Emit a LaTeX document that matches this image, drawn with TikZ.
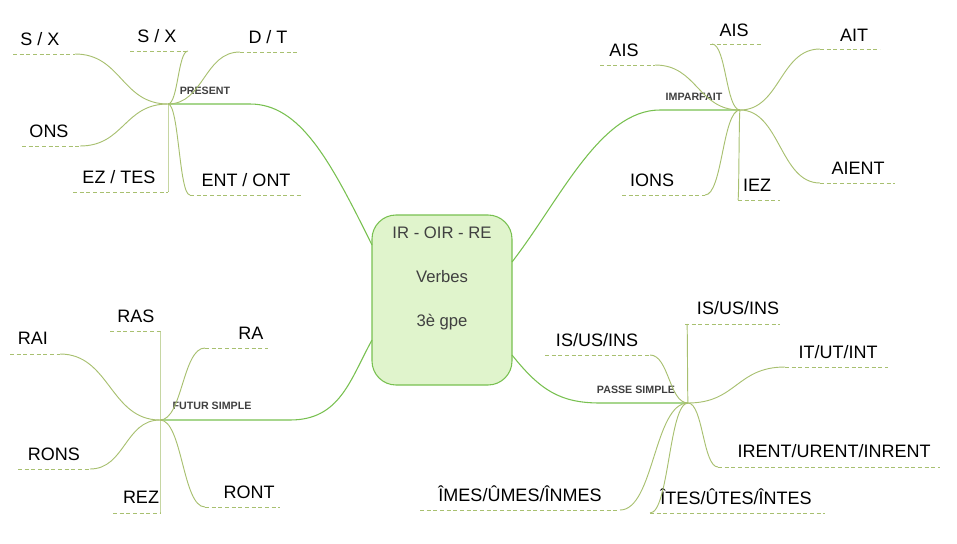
\documentclass[tikz,border=0pt]{standalone}
\usepackage{fontspec}
\setmainfont{Liberation Sans}
\usetikzlibrary{calc}
\definecolor{mainline}{HTML}{78C050}
\definecolor{leafline}{HTML}{A8C070}
\definecolor{boxfill}{HTML}{E0F4CC}
\definecolor{dark}{HTML}{404040}
\tikzset{
 leaftext/.style={font=\fontsize{13.5}{15}\selectfont, text=black, inner sep=0pt},
 hublabel/.style={font=\fontsize{8}{9}\selectfont\bfseries, text=dark, inner sep=0pt},
 under/.style={leafline, dashed, dash pattern=on 3pt off 2pt, line width=0.7pt},
 leafcurve/.style={leafline, line width=0.7pt},
 maincurve/.style={mainline, line width=0.8pt},
}
% #1 hub, #2 id, #3 text, #4 tx, #5 ty, #6 x1, #7 x2, #8 uy, #9 endx
\newcommand\myleaf[9]{%
 \node[leaftext] (t#2) at (#4,#5) {#3};
 \coordinate (a#2) at (#6,#8);
 \coordinate (b#2) at (#7,#8);
 \coordinate (e#2) at (#9,#8);
 \draw[under] (a#2) -- (b#2);
 \draw[leafcurve] (#1) .. controls ($(#1)!.5!(e#2|-#1)$) and ($(e#2)!.5!(#1|-e#2)$) .. (e#2);
}
\begin{document}
\begin{tikzpicture}[x=0.75pt,y=-0.75pt]
\useasboundingbox (0,0) rectangle (957,543);
\node[draw=mainline, fill=boxfill, line width=0.8pt, rounded corners=18pt, minimum width=105pt, minimum height=127.5pt, inner sep=0pt] (c) at (442,300) {};
\node[text=dark, font=\fontsize{12.5}{14}\selectfont] (c1) at (442,233) {IR - OIR - RE};
\node[text=dark, font=\fontsize{12.5}{14}\selectfont] (c2) at (442,277) {Verbes};
\node[text=dark, font=\fontsize{12.5}{14}\selectfont] (c3) at (442,322) {3è gpe};
% hubs
\coordinate (hp) at (168,104);
\coordinate (hi) at (740,110);
\coordinate (hf) at (160,420);
\coordinate (hs) at (688,403);
\coordinate (cp) at (372,245);
\coordinate (ci) at (512,262);
\coordinate (cf) at (372,340);
\coordinate (cs) at (512,355);
\draw[maincurve] (hp) -- (250,104) .. controls (300,104) and (330,160) .. (cp);
\draw[maincurve] (hi) -- (660,110) .. controls (600,110) and (560,200) .. (ci);
\draw[maincurve] (hf) -- (290,420) .. controls (340,420) and (350,380) .. (cf);
\draw[maincurve] (hs) -- (600,403) .. controls (560,403) and (540,390) .. (cs);
\node[hublabel] (lp) at (205,91) {PRESENT};
\node[hublabel] (li) at (694,97) {IMPARFAIT};
\node[hublabel] (lf) at (212,406) {FUTUR SIMPLE};
\node[hublabel] (ls) at (636,390) {PASSE SIMPLE};
% present
\myleaf{hp}{p1}{S / X}{40}{39}{13}{75}{54}{75}
\myleaf{hp}{p2}{S / X}{157}{36}{130}{188}{51}{188}
\myleaf{hp}{p3}{D / T}{268}{37}{240}{297}{52}{240}
\myleaf{hp}{p4}{ONS}{49}{131}{22}{80}{146}{80}
\myleaf{hp}{p5}{EZ / TES}{119}{177}{73}{168}{192}{168}
\myleaf{hp}{p6}{ENT / ONT}{246}{180}{190}{303}{195}{190}
% imparfait
\myleaf{hi}{i1}{AIS}{624}{50}{600}{655}{65}{655}
\myleaf{hi}{i2}{AIS}{734}{30}{710}{762}{44}{712}
\myleaf{hi}{i3}{AIT}{854}{35}{820}{880}{49}{820}
\myleaf{hi}{i4}{IONS}{652}{180}{622}{705}{195}{705}
\myleaf{hi}{i5}{IEZ}{757}{185}{738}{780}{200}{738}
\myleaf{hi}{i6}{AIENT}{858}{168}{820}{895}{183}{820}
% futur
\myleaf{hf}{f1}{RAI}{33}{338}{10}{60}{354}{60}
\myleaf{hf}{f2}{RAS}{136}{316}{110}{160}{331}{160}
\myleaf{hf}{f3}{RA}{251}{333}{205}{268}{348}{205}
\myleaf{hf}{f4}{RONS}{54}{454}{18}{90}{469}{90}
\myleaf{hf}{f5}{REZ}{141}{497}{113}{160}{513}{160}
\myleaf{hf}{f6}{RONT}{249}{492}{205}{280}{507}{205}
% passe simple
\myleaf{hs}{s1}{IS/US/INS}{597}{340}{545}{650}{355}{650}
\myleaf{hs}{s2}{IS/US/INS}{738}{308}{685}{780}{324}{687}
\myleaf{hs}{s3}{IT/UT/INT}{838}{352}{785}{888}{367}{785}
\myleaf{hs}{s4}{IRENT/URENT/INRENT}{834}{451}{718}{940}{467}{718}
\myleaf{hs}{s5}{ÎMES/ÛMES/ÎNMES}{520}{494}{420}{620}{510}{620}
\myleaf{hs}{s6}{ÎTES/ÛTES/ÎNTES}{736}{497}{650}{825}{513}{650}
\end{tikzpicture}
\end{document}
